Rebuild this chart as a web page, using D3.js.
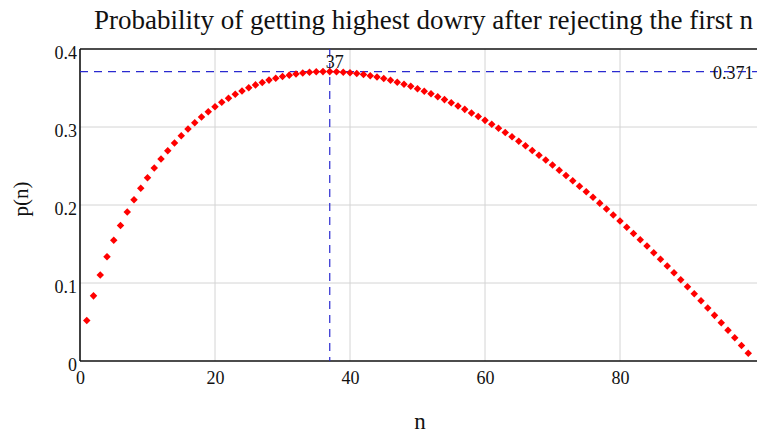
<!DOCTYPE html>
<html>
<head>
<meta charset="utf-8">
<script src="https://cdn.jsdelivr.net/npm/d3@7"></script>
<style>
  body { margin: 0; background: #fff; }
  svg { display: block; font-family: "Liberation Serif", "DejaVu Serif", serif; }
</style>
</head>
<body>
<script>
// n = number rejected first, p = chance of the best one
const nValues = d3.range(1, 100);
const pValues = [
  0.0518, 0.0835, 0.1103, 0.1338, 0.1547, 0.1736, 0.1909, 0.2068, 0.2214, 0.2348,
  0.2473, 0.2589, 0.2696, 0.2796, 0.2889, 0.2975, 0.3054, 0.3128, 0.3196, 0.3259,
  0.3317, 0.3370, 0.3419, 0.3463, 0.3504, 0.3540, 0.3572, 0.3601, 0.3626, 0.3647,
  0.3665, 0.3680, 0.3692, 0.3701, 0.3707, 0.3710, 0.3710, 0.3708, 0.3703, 0.3695,
  0.3685, 0.3673, 0.3658, 0.3640, 0.3621, 0.3599, 0.3575, 0.3549, 0.3521, 0.3491,
  0.3459, 0.3425, 0.3388, 0.3351, 0.3311, 0.3269, 0.3226, 0.3181, 0.3134, 0.3085,
  0.3035, 0.2983, 0.2929, 0.2874, 0.2818, 0.2759, 0.2700, 0.2639, 0.2576, 0.2512,
  0.2446, 0.2379, 0.2311, 0.2241, 0.2170, 0.2098, 0.2024, 0.1949, 0.1873, 0.1795,
  0.1716, 0.1636, 0.1555, 0.1473, 0.1389, 0.1304, 0.1218, 0.1131, 0.1043, 0.0953,
  0.0863, 0.0771, 0.0678, 0.0585, 0.0490, 0.0394, 0.0297, 0.0199, 0.0100
];
const xTicks = [0, 20, 40, 60, 80];
const yTicks = [0, 0.1, 0.2, 0.3, 0.4];
const bestN = 37;
const bestP = 0.371;

const width = 757, height = 433;
const margin = { left: 80, top: 49, bottom: 72 };
const serif = "Liberation Serif, Times New Roman, serif";

const svg = d3.select("body").append("svg")
  .attr("width", width)
  .attr("height", height)
  .attr("font-family", serif);

const x = d3.scaleLinear().domain([0, 100]).range([margin.left, margin.left + 675]);
const y = d3.scaleLinear().domain([0, 0.4]).range([height - margin.bottom, margin.top]);
const xRight = width + 10;

// grid
const grid = svg.append("g").attr("stroke", "#d4d4d4").attr("stroke-width", 1);
grid.selectAll(".gx").data(xTicks.slice(1)).enter().append("line")
  .attr("x1", d => x(d)).attr("x2", d => x(d))
  .attr("y1", y(0)).attr("y2", y(0.4));
grid.selectAll(".gy").data(yTicks.slice(1, -1)).enter().append("line")
  .attr("x1", x(0)).attr("x2", xRight)
  .attr("y1", d => y(d)).attr("y2", d => y(d));

// axes (ticks hidden, labels kept)
const xAxis = svg.append("g")
  .attr("transform", `translate(0,${y(0)})`)
  .call(d3.axisBottom(x).tickValues(xTicks).tickSize(0).tickPadding(0).tickFormat(d3.format("d")));
const yAxis = svg.append("g")
  .attr("transform", `translate(${x(0)},0)`)
  .call(d3.axisLeft(y).tickValues(yTicks).tickSize(0).tickPadding(3)
    .tickFormat(d => d === 0 ? "0" : d3.format(".1f")(d)));
[xAxis, yAxis].forEach(a => {
  a.attr("font-family", serif).attr("font-size", 18);
  a.select(".domain").remove();
  a.selectAll("text").attr("fill", "#111");
});
xAxis.selectAll("text").attr("y", 23).attr("dy", null);
yAxis.selectAll("text").attr("y", 9).attr("dy", null);

// frame
const frame = svg.append("g").attr("stroke", "#111").attr("stroke-width", 1.6).attr("fill", "none");
frame.append("line").attr("x1", x(0)).attr("x2", xRight).attr("y1", y(0.4)).attr("y2", y(0.4));
frame.append("line").attr("x1", x(0)).attr("x2", xRight).attr("y1", y(0)).attr("y2", y(0));
frame.append("line").attr("x1", x(0)).attr("x2", x(0)).attr("y1", y(0.4)).attr("y2", y(0));

// optimum marker lines
const opt = svg.append("g").attr("stroke", "#2a2ad0").attr("stroke-width", 1.2)
  .attr("stroke-dasharray", "8,6");
opt.append("line").attr("x1", x(0)).attr("x2", xRight).attr("y1", y(bestP)).attr("y2", y(bestP));
opt.append("line").attr("x1", x(bestN)).attr("x2", x(bestN)).attr("y1", y(0.4)).attr("y2", y(0));

svg.append("text")
  .attr("x", x(bestN) + 5).attr("y", y(0.4) + 19)
  .attr("text-anchor", "middle").attr("font-size", 18).attr("fill", "#111")
  .text(bestN);
svg.append("text")
  .attr("x", 713).attr("y", y(bestP) + 7)
  .attr("font-size", 18).attr("fill", "#111")
  .text(bestP);

// points
const diamond = d3.symbol().type(d3.symbolDiamond2).size(36);
svg.append("g").selectAll("path")
  .data(nValues.map((n, i) => ({ n, p: pValues[i] })))
  .enter().append("path")
  .attr("d", diamond)
  .attr("transform", d => `translate(${x(d.n)},${y(d.p)})`)
  .attr("fill", "#ff0000");

// titles
svg.append("text")
  .attr("x", 94).attr("y", 29)
  .attr("font-size", 27).attr("fill", "#111")
  .text("Probability of getting highest dowry after rejecting the first n");
svg.append("text")
  .attr("transform", `translate(28,199) rotate(-90)`)
  .attr("text-anchor", "middle").attr("font-size", 21).attr("fill", "#111")
  .text("p(n)");
svg.append("text")
  .attr("x", 420).attr("y", 429)
  .attr("text-anchor", "middle").attr("font-size", 23).attr("fill", "#111")
  .text("n");
</script>
</body>
</html>
